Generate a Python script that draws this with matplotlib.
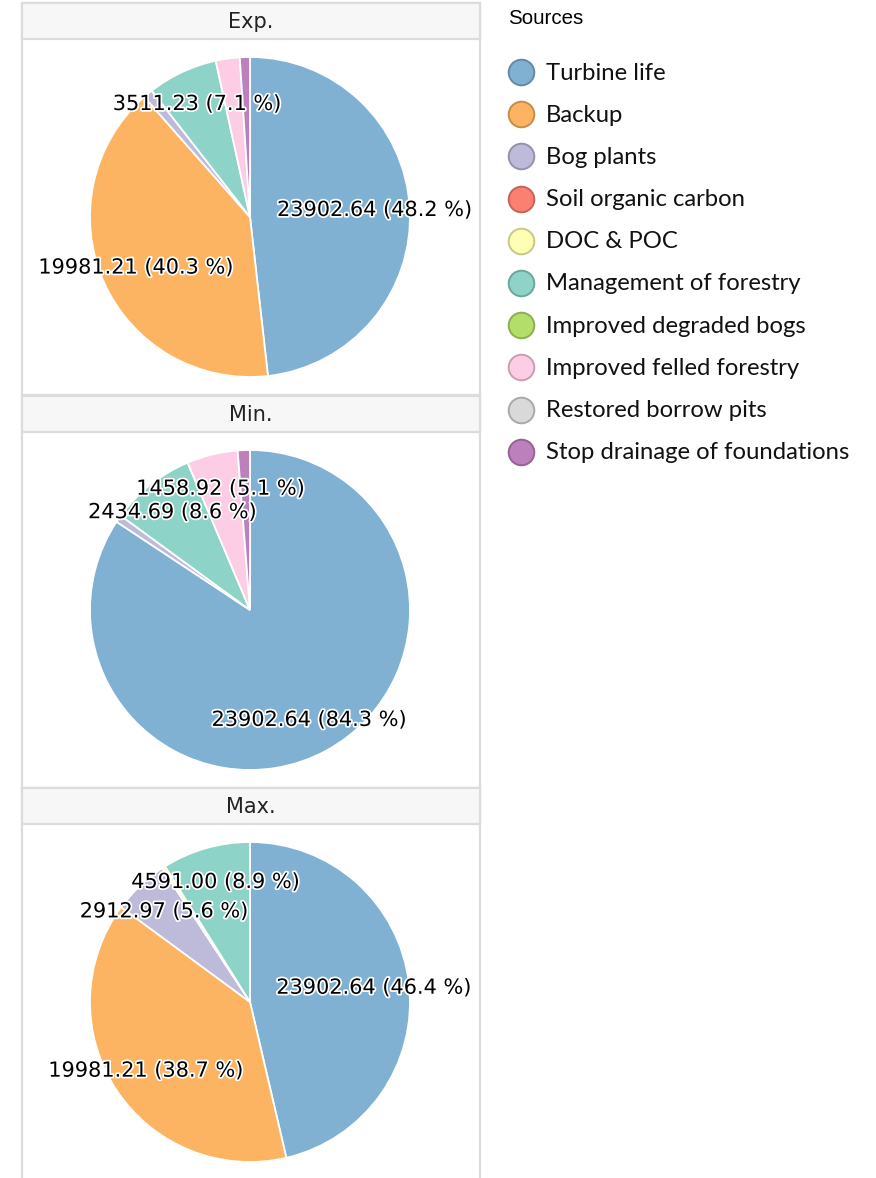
import matplotlib
matplotlib.use("Agg")
import matplotlib.pyplot as plt
import matplotlib.patheffects as pe
from matplotlib.patches import Rectangle
from matplotlib.colors import to_rgb
import numpy as np

# Sources and their contributions for each scenario
sources = ["Turbine life", "Backup", "Bog plants", "Soil organic carbon", "DOC & POC",
           "Management of forestry", "Improved degraded bogs", "Improved felled forestry",
           "Restored borrow pits", "Stop drainage of foundations"]
colors = ["#80b1d3", "#fdb462", "#bebada", "#fb8072", "#ffffb3",
          "#8dd3c7", "#b3de69", "#fccde5", "#d9d9d9", "#bc80bd"]

scenarios = ["Exp.", "Min.", "Max."]
exp_vals = [23902.64, 19981.21, 480, 0, 0, 3511.23, 0, 1200, 0, 505]
min_vals = [23902.64, 0, 210, 0, 0, 2434.69, 0, 1458.92, 0, 349]
max_vals = [23902.64, 19981.21, 2912.97, 0, 179, 4591.00, 0, 0, 0, 0]
all_vals = [exp_vals, min_vals, max_vals]

W, H = 876, 1178
fig = plt.figure(figsize=(W / 100, H / 100), dpi=100)


def px(x0, y0, w, h):
    # pixel box (top-left origin) -> figure fraction rect
    return [x0 / W, 1 - (y0 + h) / H, w / W, h / H]


border = "#dcdcdc"
panel_tops = [3, 396, 788]
header_h = 36
panel_h = 392
left, right = 22, 480

for i, (name, vals) in enumerate(zip(scenarios, all_vals)):
    top = panel_tops[i]
    # facet frame and header strip
    fig.patches.append(Rectangle((left / W, 1 - (top + panel_h) / H), (right - left) / W, panel_h / H,
                                 transform=fig.transFigure, facecolor="none", edgecolor=border, lw=1.6))
    fig.patches.append(Rectangle((left / W, 1 - (top + header_h) / H), (right - left) / W, header_h / H,
                                 transform=fig.transFigure, facecolor="#f7f7f7", edgecolor=border, lw=1.6))
    fig.text((left + right) / 2 / W, 1 - (top + header_h / 2 + 1) / H, name,
             ha="center", va="center", fontsize=15, family="DejaVu Sans", color="#222222")

    # pie
    cy = top + header_h + (panel_h - header_h) / 2
    r = 160
    ax = fig.add_axes(px(250 - r, cy - r, 2 * r, 2 * r))
    vals = np.array(vals, dtype=float)
    keep = vals > 0
    ax.pie(vals[keep], colors=np.array(colors)[keep], startangle=90, counterclock=False,
           wedgeprops=dict(edgecolor="white", linewidth=1.3))
    ax.set_xlim(-1, 1)
    ax.set_ylim(-1, 1)
    ax.set_aspect("equal")
    ax.axis("off")

    total = vals.sum()
    cum = 0.0
    for v in vals:
        if v <= 0:
            continue
        frac = v / total
        if frac >= 0.05:
            theta = np.deg2rad(90 - 360 * (cum + frac / 2))
            ax.text(0.78 * np.cos(theta), 0.78 * np.sin(theta),
                    f"{v:.2f} ({100 * frac:.1f} %)", ha="center", va="center",
                    fontsize=15, family="DejaVu Sans", color="black", zorder=10,
                    path_effects=[pe.withStroke(linewidth=2.5, foreground="white")])
        cum += frac

# legend
lax = fig.add_axes(px(495, 0, 381, 480))
lax.set_xlim(0, 381)
lax.set_ylim(480, 0)
lax.axis("off")
lax.text(13, 18, "Sources", ha="left", va="center", fontsize=14.8, family="Liberation Sans")
for i, (s, c) in enumerate(zip(sources, colors)):
    y = 72 + i * 42.2
    edge = tuple(np.array(to_rgb(c)) * 0.78)
    lax.scatter([26], [y], s=340, color=c, edgecolor=edge, linewidth=1.4, clip_on=False)
    lax.text(51, y + 1, s, ha="left", va="center", fontsize=17.2, family="Lato", color="#111111")

fig.savefig("out.png", dpi=100)
